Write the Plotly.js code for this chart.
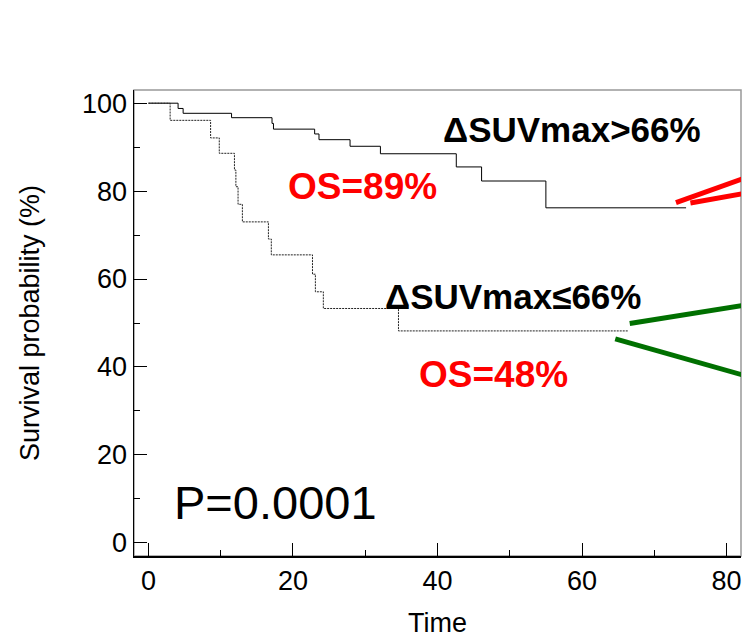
<!DOCTYPE html>
<html>
<head>
<meta charset="utf-8">
<script src="https://cdn.plot.ly/plotly-3.0.1.min.js"></script>
<style>html,body{margin:0;padding:0;background:#fff;}#chart{width:745px;height:638px;}</style>
</head>
<body>
<div id="chart"></div>
<script>
// Kaplan-Meier curve: ΔSUVmax > 66%
var highTime = [0, 4.1, 4.8, 11.5, 17.1, 17.3, 23.0, 23.6, 27.9, 32.1, 42.6, 46.1, 55.0, 74.4];
var highSurv = [100, 98.8, 97.7, 96.7, 95.4, 94.1, 93.0, 91.7, 90.2, 88.5, 85.5, 82.3, 76.2, 76.2];
// Kaplan-Meier curve: ΔSUVmax ≤ 66%
var lowTime = [0, 3.0, 8.6, 9.8, 11.9, 12.1, 12.4, 13.0, 16.6, 17.0, 22.7, 23.1, 24.2, 34.6, 66.4];
var lowSurv = [100, 96.1, 92.1, 88.6, 84.8, 81.0, 77.0, 73.0, 69.1, 65.5, 61.1, 57.1, 53.3, 48.2, 48.2];

var xTicks = [0, 20, 40, 60, 80];
var yTicks = [0, 20, 40, 60, 80, 100];

var labelText = ["\u0394SUVmax>66%", "OS=89%", "\u0394SUVmax\u226466%", "OS=48%", "P=0.0001"];
var labelX = [58.6, 29.6, 50.5, 47.8, 17.6];
var labelY = [94.0, 81.1, 56.0, 38.4, 9.2];

// pointer strokes (start / end in data units)
var redX0 = [73.0, 75.0], redY0 = [77.4, 77.3], redX1 = [82.6, 82.6], redY1 = [83.0, 79.5];
var greenX0 = [66.6, 64.6], greenY0 = [49.9, 46.4], greenX1 = [82.6, 82.6], greenY1 = [54.1, 38.0];

var FONT = "Liberation Sans, Arial, sans-serif";

var traces = [
  {x: highTime, y: highSurv, type: "scatter", mode: "lines", line: {shape: "hv", color: "#000", width: 1}, hoverinfo: "skip", showlegend: false},
  {x: lowTime, y: lowSurv, type: "scatter", mode: "lines", line: {shape: "hv", color: "#222", width: 1, dash: "2px,1px"}, hoverinfo: "skip", showlegend: false}
];

var labelStyle = [
  {size: 35, color: "#000", weight: "bold"},
  {size: 37, color: "#ff0000", weight: "bold"},
  {size: 35, color: "#000", weight: "bold"},
  {size: 37, color: "#ff0000", weight: "bold"},
  {size: 47, color: "#000", weight: "normal"}
];
var annotations = labelText.map(function (t, i) {
  return {x: labelX[i], y: labelY[i], xref: "x", yref: "y", text: t, showarrow: false,
    xanchor: "center", yanchor: "middle",
    font: {family: FONT, size: labelStyle[i].size, color: labelStyle[i].color, weight: labelStyle[i].weight}};
});

var shapes = [
  {type: "rect", xref: "paper", yref: "paper", x0: 0, x1: 1, y0: 0, y1: 1, line: {color: "#999", width: 1.5}, layer: "below"}
];
for (var i = 0; i < 2; i++) {
  shapes.push({type: "line", xref: "x", yref: "y", x0: redX0[i], y0: redY0[i], x1: redX1[i], y1: redY1[i], line: {color: "#ff0000", width: 5}});
  shapes.push({type: "line", xref: "x", yref: "y", x0: greenX0[i], y0: greenY0[i], x1: greenX1[i], y1: greenY1[i], line: {color: "#007000", width: 5}});
}

var layout = {
  width: 745, height: 638,
  margin: {l: 134, r: 4, t: 90, b: 82, pad: 0},
  paper_bgcolor: "#fff", plot_bgcolor: "#fff",
  font: {family: FONT, color: "#000"},
  showlegend: false,
  xaxis: {
    range: [-2, 82], tickvals: xTicks, ticktext: xTicks.map(String),
    ticks: "inside", ticklen: 13, tickwidth: 1, tickcolor: "#000",
    minor: {dtick: 10, tick0: 0, ticks: "inside", ticklen: 6, tickwidth: 1, tickcolor: "#000", showgrid: false},
    showline: true, linecolor: "#000", linewidth: 1.5, showgrid: false, zeroline: false,
    tickfont: {size: 27, family: FONT, color: "#000"},
    title: {text: "Time", font: {size: 27, family: FONT, color: "#000"}, standoff: 24}
  },
  yaxis: {
    range: [-3, 103], tickvals: yTicks, ticktext: yTicks.map(String),
    ticks: "inside", ticklen: 13, tickwidth: 1, tickcolor: "#000",
    minor: {dtick: 10, tick0: 0, ticks: "inside", ticklen: 6, tickwidth: 1, tickcolor: "#000", showgrid: false},
    showline: true, linecolor: "#000", linewidth: 1.5, showgrid: false, zeroline: false,
    tickfont: {size: 27, family: FONT, color: "#000"},
    title: {text: "Survival probability (%)", font: {size: 27, family: FONT, color: "#000"}, standoff: 34}
  },
  annotations: annotations,
  shapes: shapes
};

Plotly.newPlot("chart", traces, layout, {displayModeBar: false, staticPlot: true});
</script>
</body>
</html>
